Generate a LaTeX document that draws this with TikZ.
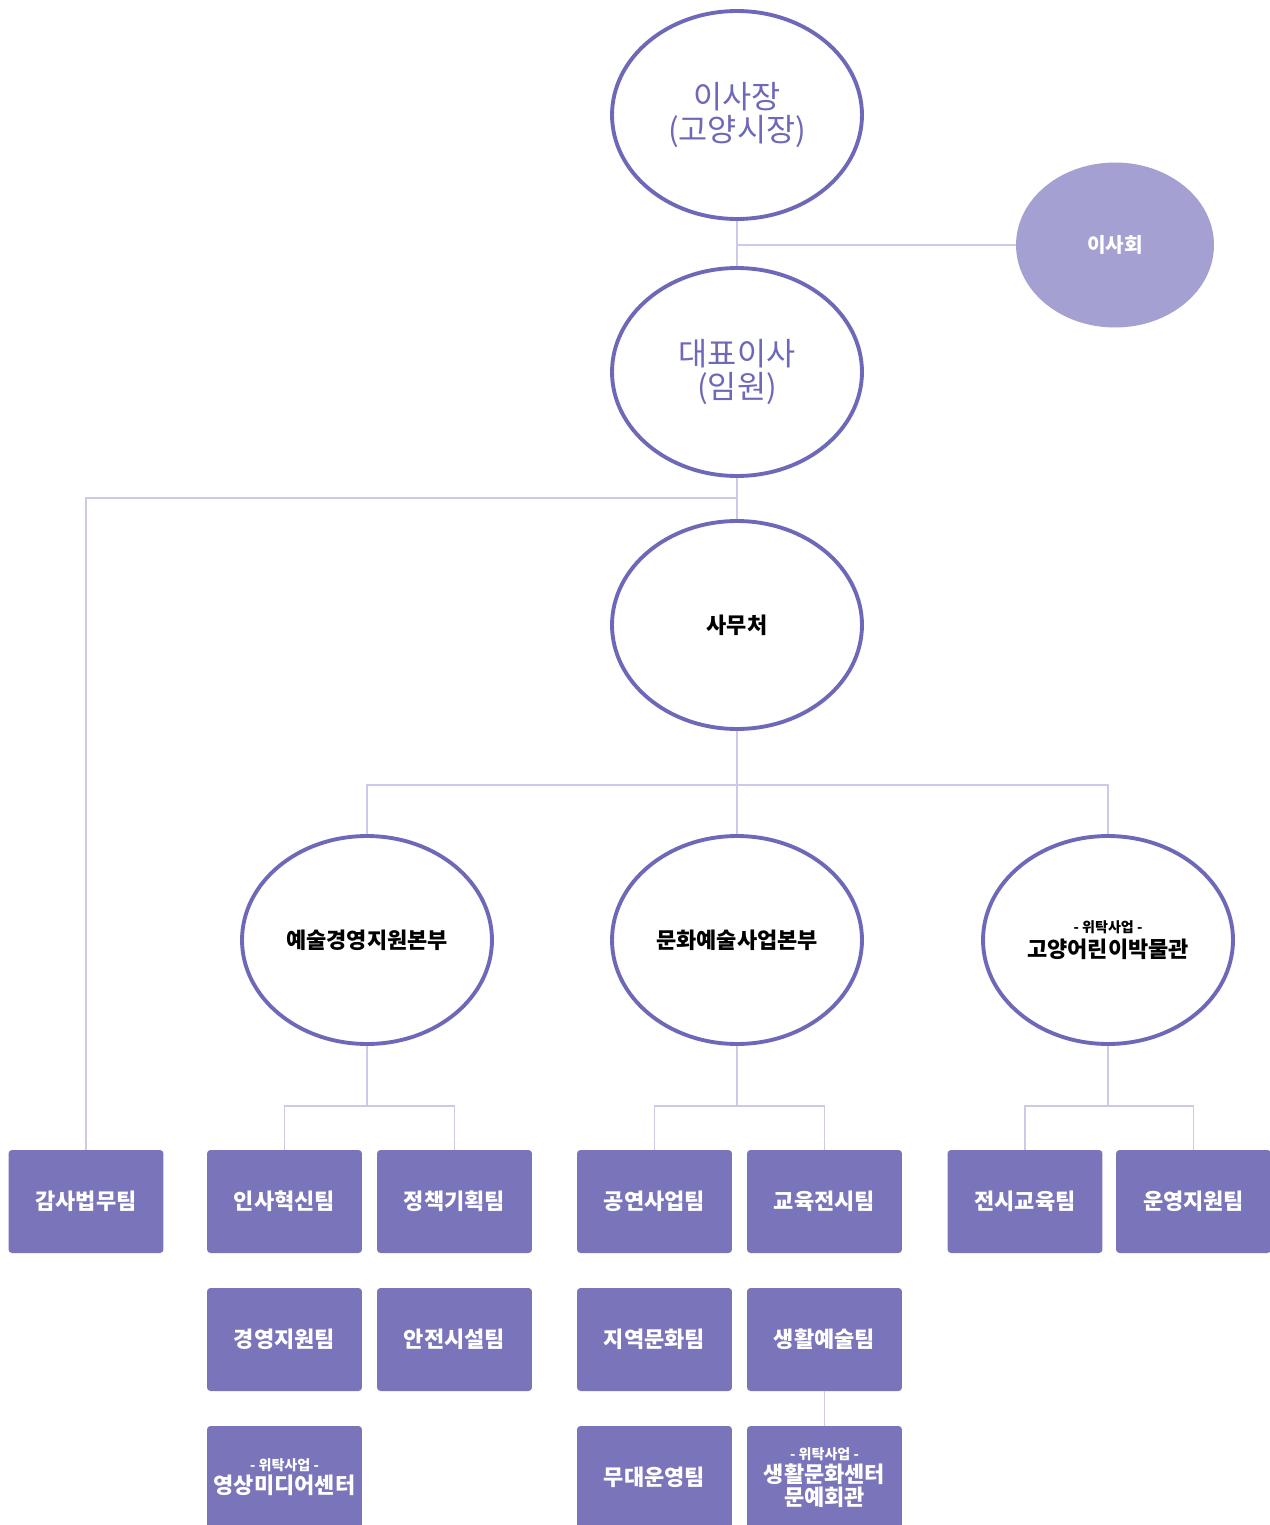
\documentclass[tikz,border=0pt]{standalone}
\usepackage{fontspec}
\setmainfont{Noto Sans CJK KR}
\usetikzlibrary{shapes.geometric}
\definecolor{ringc}{HTML}{6E68B8}
\definecolor{teamc}{HTML}{7A74BB}
\definecolor{boardc}{HTML}{A4A0D2}
\definecolor{linkc}{HTML}{CCCAE8}
\tikzset{
  head/.style={ellipse, draw=ringc, line width=2.2pt, fill=white, minimum width=5cm, minimum height=4.16cm, text=ringc, align=center, font=\fontsize{18}{19}\selectfont},
  unit/.style={head, text=black, font=\bfseries\fontsize{12.5}{14}\selectfont},
  team/.style={rectangle, rounded corners=2pt, fill=teamc, text=white, minimum width=3.1cm, minimum height=2.06cm, inner sep=0pt, align=center, font=\bfseries\fontsize{12.5}{13}\selectfont},
  link/.style={draw=linkc, line width=1pt}
}
\newcommand{\consign}{{\fontsize{8}{9}\selectfont - 위탁사업 -}\\}

\begin{document}
\begin{tikzpicture}[x=0.02cm, y=-0.02cm]
        \clip (0,0) rectangle (1270,1525);
        \fill[white] (0,0) rectangle (1270,1525);

        \node[head] (chair) at (737,115) {이사장\\(고양시장)}; %top
        \node[head] (ceo) at (737,372) {대표이사\\(임원)};
        \node[head] (office) at (737,625) {};
        \node[font=\bfseries\fontsize{12.5}{14}\selectfont] (officetxt) at (office) {사무처};
        \node[ellipse, fill=boardc, minimum width=3.96cm, minimum height=3.3cm, text=white, font=\bfseries\fontsize{11.5}{13}\selectfont] (board) at (1115,245) {이사회};

        \node[unit] (div1) at (367,940) {예술경영지원본부};
        \node[unit] (div2) at (737,940) {문화예술사업본부};
        \node[unit] (div3) at (1108,940) {\consign 고양어린이박물관};

        \node[team] (audit) at (86,1201.5) {감사법무팀};
        \node[team] (hr) at (284.5,1201.5) {인사혁신팀};
        \node[team] (policy) at (454.5,1201.5) {정책기획팀};
        \node[team] (perf) at (654.5,1201.5) {공연사업팀};
        \node[team] (edu) at (824.5,1201.5) {교육전시팀};
        \node[team] (exhib) at (1025,1201.5) {전시교육팀};
        \node[team] (ops) at (1193.5,1201.5) {운영지원팀};
        \node[team] (mgmt) at (284.5,1339.5) {경영지원팀};
        \node[team] (safety) at (454.5,1339.5) {안전시설팀};
        \node[team] (local) at (654.5,1339.5) {지역문화팀};
        \node[team] (arts) at (824.5,1339.5) {생활예술팀};
        \node[team] (media) at (284.5,1477.5) {\consign 영상미디어센터};
        \node[team] (stage) at (654.5,1477.5) {무대운영팀};
        \node[team] (center) at (824.5,1477.5) {\consign 생활문화센터\\문예회관};

        \coordinate (jb) at (737,245);
        \coordinate (ja) at (737,498);
        \coordinate (jo) at (737,785);

        \draw[link] (chair) -- (ceo);
        \draw[link] (jb) -- (board);
        \draw[link] (ceo) -- (office);
        \draw[link] (ja) -| (audit);
        \draw[link] (office) -- (div2);
        \draw[link] (jo) -| (div1);
        \draw[link] (jo) -| (div3);
        \draw[link] (div1.south) -- ++(0,60) -| (hr);
        \draw[link] (div1.south) ++(0,60) -| (policy);
        \draw[link] (div2.south) -- ++(0,60) -| (perf);
        \draw[link] (div2.south) ++(0,60) -| (edu);
        \draw[link] (div3.south) -- ++(0,60) -| (exhib);
        \draw[link] (div3.south) ++(0,60) -| (ops);
        \draw[link] (arts) -- (center);
\end{tikzpicture}
\end{document}
